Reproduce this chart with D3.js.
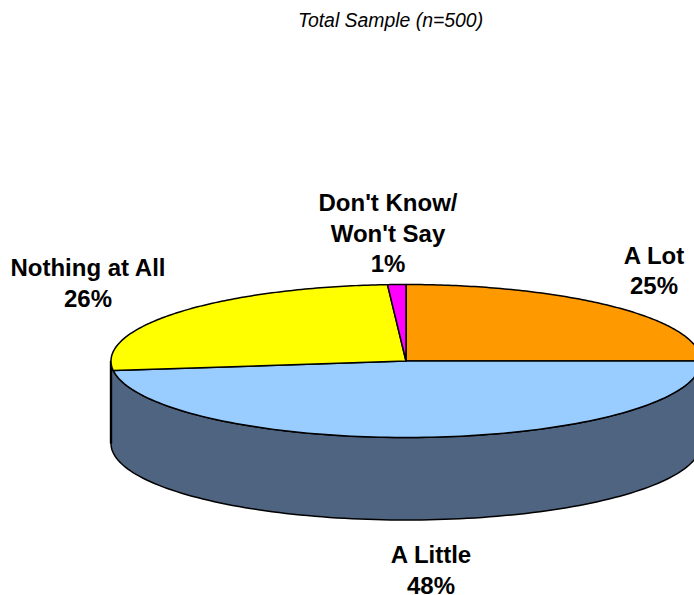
<!DOCTYPE html>
<html><head><meta charset="utf-8">
<script src="https://cdn.jsdelivr.net/npm/d3@7/dist/d3.min.js"></script>
<style>html,body{margin:0;padding:0;background:#fff}svg{display:block}
text{font-family:"Liberation Sans",Arial,sans-serif;fill:#000}</style></head>
<body><svg id="c" width="694" height="595"></svg>
<script>
const categories = ["A Lot","A Little","Nothing at All","Don't Know/Won't Say"];
const values = [25,48,26,1];
const colors = ["#ff9900","#99ccff","#ffff00","#ff00ff"];
const wallColor = "#4f6480";
const title = "Total Sample (n=500)";
const labelLines = [["A Lot","25%"],["A Little","48%"],["Nothing at All","26%"],["Don't Know/","Won't Say","1%"]];
const labelPos = [[654,263.5],[431,563],[88,276],[388,211]];

const cx=406, cy=361, rx=295, ry=76.5, depth=82.5;
const svg=d3.select("#c");
const pie=d3.pie().sort(null).value(d=>d)(values);
const pt=(a,dy=0)=>[cx+rx*Math.sin(a), cy-ry*Math.cos(a)+dy];
const arcPts=(a0,a1,dy=0)=>d3.range(0,121).map(i=>pt(a0+(a1-a0)*i/120,dy));
const line=d3.line();

const front=arcPts(Math.PI/2,Math.PI*1.5);
const back=arcPts(Math.PI*1.5,Math.PI/2,depth);
svg.append("path").attr("d",line(front.concat(back))+"Z")
  .attr("fill",wallColor).attr("stroke","#000").attr("stroke-width",1.5).attr("stroke-linejoin","round");
svg.append("path").attr("d",line([pt(Math.PI*1.5),pt(Math.PI*1.5,depth)]))
  .attr("stroke","#000").attr("stroke-width",2.4).attr("fill","none");

svg.selectAll("path.slice").data(pie).join("path").attr("class","slice")
  .attr("d",d=>line([[cx,cy]].concat(arcPts(d.startAngle,d.endAngle)))+"Z")
  .attr("fill",(d,i)=>colors[i]).attr("stroke","#000").attr("stroke-width",1.5).attr("stroke-linejoin","round");

svg.append("text").attr("x",390.5).attr("y",27).attr("text-anchor","middle")
  .attr("font-style","italic").attr("font-size",19.4).text(title);

labelLines.forEach((ls,i)=>{
  ls.forEach((s,j)=>{
    svg.append("text").attr("x",labelPos[i][0]).attr("y",labelPos[i][1]+j*30.5)
      .attr("text-anchor","middle").attr("font-weight","bold").attr("font-size",24).text(s);
  });
});
</script></body></html>
